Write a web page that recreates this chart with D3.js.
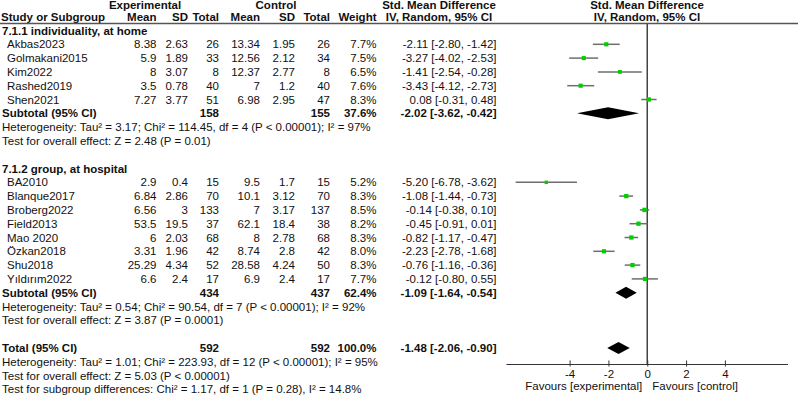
<!DOCTYPE html>
<html>
<head>
<meta charset="utf-8">
<script src="https://cdn.jsdelivr.net/npm/d3@7"></script>
<style>
  body { margin: 0; background: #fff; }
  svg text { font-family: "Liberation Sans", Arial, sans-serif; font-size: 11.5px; fill: #111; }
  .b { font-weight: bold; }
</style>
</head>
<body>
<script>
var w = 798, h = 399;

// study rows
var studies = ["Akbas2023", "Golmakani2015", "Kim2022", "Rashed2019", "Shen2021",
    "BA2010", "Blanque2017", "Broberg2022", "Field2013", "Mao 2020", "Özkan2018", "Shu2018", "Yıldırım2022"];
var group = [1, 1, 1, 1, 1, 2, 2, 2, 2, 2, 2, 2, 2];
var expMean = [8.38, 5.9, 8, 3.5, 7.27, 2.9, 6.84, 6.56, 53.5, 6, 3.31, 25.29, 6.6];
var expSD = [2.63, 1.89, 3.07, 0.78, 3.77, 0.4, 2.86, 3, 19.5, 2.03, 1.96, 4.34, 2.4];
var expTotal = [26, 33, 8, 40, 51, 15, 70, 133, 37, 68, 42, 52, 17];
var ctlMean = [13.34, 12.56, 12.37, 7, 6.98, 9.5, 10.1, 7, 62.1, 8, 8.74, 28.58, 6.9];
var ctlSD = [1.95, 2.12, 2.77, 1.2, 2.95, 1.7, 3.12, 3.17, 18.4, 2.78, 2.8, 4.24, 2.4];
var ctlTotal = [26, 34, 8, 40, 47, 15, 70, 137, 38, 68, 42, 50, 17];
var weight = [7.7, 7.5, 6.5, 7.6, 8.3, 5.2, 8.3, 8.5, 8.2, 8.3, 8.0, 8.3, 7.7];
var smd = [-2.11, -3.27, -1.41, -3.43, 0.08, -5.20, -1.08, -0.14, -0.45, -0.82, -2.23, -0.76, -0.12];
var ciLow = [-2.80, -4.02, -2.54, -4.12, -0.31, -6.78, -1.44, -0.38, -0.91, -1.17, -2.78, -1.16, -0.80];
var ciHigh = [-1.42, -2.53, -0.28, -2.73, 0.48, -3.62, -0.73, 0.10, 0.01, -0.47, -1.68, -0.36, 0.55];

// subgroups and total
var groupNames = ["7.1.1 individuality, at home", "7.1.2 group, at hospital"];
var pooledLabel = ["Subtotal (95% CI)", "Subtotal (95% CI)", "Total (95% CI)"];
var pooledExpN = [158, 434, 592];
var pooledCtlN = [155, 437, 592];
var pooledWeight = [37.6, 62.4, 100.0];
var pooledSmd = [-2.02, -1.09, -1.48];
var pooledLow = [-3.62, -1.64, -2.06];
var pooledHigh = [-0.42, -0.54, -0.90];
var hetText = [
    "Heterogeneity: Tau² = 3.17; Chi² = 114.45, df = 4 (P < 0.00001); I² = 97%",
    "Heterogeneity: Tau² = 0.54; Chi² = 90.54, df = 7 (P < 0.00001); I² = 92%",
    "Heterogeneity: Tau² = 1.01; Chi² = 223.93, df = 12 (P < 0.00001); I² = 95%"];
var effectText = [
    "Test for overall effect: Z = 2.48 (P = 0.01)",
    "Test for overall effect: Z = 3.87 (P = 0.0001)",
    "Test for overall effect: Z = 5.03 (P < 0.00001)"];
var subgroupText = "Test for subgroup differences: Chi² = 1.17, df = 1 (P = 0.28), I² = 14.8%";
var xTicks = [-4, -2, 0, 2, 4];

// row index of each line
var studyRow = [1, 2, 3, 4, 5, 11, 12, 13, 14, 15, 16, 17, 18];
var groupRow = [0, 10];
var pooledRow = [6, 19, 23];

var svg = d3.select("body").append("svg")
    .attr("width", w).attr("height", h);

var yRow = d3.scaleLinear().domain([0, 26]).range([30.5, 389.3]);
var xScale = d3.scaleLinear().domain([-7.25, 7.25]).range([506.5, 788]);

// column right edges
var col = {eMean: 156.5, eSD: 188, eN: 219, cMean: 260, cSD: 295, cN: 330, wt: 376.5, ci: 496.5};

function fmt2(v) { return v.toFixed(2); }
function ciStr(m, l, u) { return fmt2(m) + " [" + fmt2(l) + ", " + fmt2(u) + "]"; }

function txt(x, y, s, anchor, bold) {
    return svg.append("text")
        .attr("x", x).attr("y", y).attr("dy", "0.35em")
        .attr("text-anchor", anchor || "start")
        .attr("class", bold ? "b" : null)
        .text(s);
}

// header
txt(145, 5, "Experimental", "middle", true);
txt(276, 5, "Control", "middle", true);
txt(439, 5, "Std. Mean Difference", "middle", true);
txt(647, 5, "Std. Mean Difference", "middle", true);
txt(1, 17, "Study or Subgroup", "start", true);
txt(col.eMean, 17, "Mean", "end", true);
txt(col.eSD, 17, "SD", "end", true);
txt(col.eN, 17, "Total", "end", true);
txt(col.cMean, 17, "Mean", "end", true);
txt(col.cSD, 17, "SD", "end", true);
txt(col.cN, 17, "Total", "end", true);
txt(col.wt, 17, "Weight", "end", true);
txt(439, 17, "IV, Random, 95% CI", "middle", true);
txt(647, 17, "IV, Random, 95% CI", "middle", true);

svg.append("line")
    .attr("x1", 0).attr("x2", w).attr("y1", 23.5).attr("y2", 23.5)
    .attr("stroke", "#555").attr("stroke-width", 1.5);

// zero line
svg.append("line")
    .attr("x1", xScale(0)).attr("x2", xScale(0))
    .attr("y1", 23.5).attr("y2", 364)
    .attr("stroke", "#444").attr("stroke-width", 1.5);

// group headers
groupNames.forEach(function (g, i) { txt(2, yRow(groupRow[i]), g, "start", true); });

// study table text
studies.forEach(function (s, i) {
    var y = yRow(studyRow[i]);
    txt(7, y, s);
    txt(col.eMean, y, String(expMean[i]), "end");
    txt(col.eSD, y, String(expSD[i]), "end");
    txt(col.eN, y, String(expTotal[i]), "end");
    txt(col.cMean, y, String(ctlMean[i]), "end");
    txt(col.cSD, y, String(ctlSD[i]), "end");
    txt(col.cN, y, String(ctlTotal[i]), "end");
    txt(col.wt, y, weight[i].toFixed(1) + "%", "end");
    txt(col.ci, y, ciStr(smd[i], ciLow[i], ciHigh[i]), "end");
});

// CI lines
svg.selectAll(".ci")
    .data(studies)
    .enter()
    .append("line")
    .attr("class", "ci")
    .attr("x1", function (d, i) { return xScale(ciLow[i]); })
    .attr("x2", function (d, i) { return xScale(ciHigh[i]); })
    .attr("y1", function (d, i) { return yRow(studyRow[i]); })
    .attr("y2", function (d, i) { return yRow(studyRow[i]); })
    .attr("stroke", "#6e6e6e")
    .attr("stroke-width", 1.5);

// weight squares
svg.selectAll(".sq")
    .data(studies)
    .enter()
    .append("rect")
    .attr("class", "sq")
    .attr("x", function (d, i) { return xScale(smd[i]) - 0.75 * Math.sqrt(weight[i]); })
    .attr("y", function (d, i) { return yRow(studyRow[i]) - 0.75 * Math.sqrt(weight[i]); })
    .attr("width", function (d, i) { return 1.5 * Math.sqrt(weight[i]); })
    .attr("height", function (d, i) { return 1.5 * Math.sqrt(weight[i]); })
    .attr("fill", "#00d000");

// pooled rows
pooledLabel.forEach(function (lab, i) {
    var y = yRow(pooledRow[i]);
    txt(2, y, lab, "start", true);
    txt(col.eN, y, String(pooledExpN[i]), "end", true);
    txt(col.cN, y, String(pooledCtlN[i]), "end", true);
    txt(col.wt, y, pooledWeight[i].toFixed(1) + "%", "end", true);
    txt(col.ci, y, ciStr(pooledSmd[i], pooledLow[i], pooledHigh[i]), "end", true);
    txt(2, yRow(pooledRow[i] + 1), hetText[i]);
    txt(2, yRow(pooledRow[i] + 2), effectText[i]);
});
txt(2, yRow(26), subgroupText);

// diamonds
svg.selectAll(".dia")
    .data(pooledSmd)
    .enter()
    .append("path")
    .attr("class", "dia")
    .attr("d", function (d, i) {
        var y = yRow(pooledRow[i]);
        return "M" + xScale(pooledLow[i]) + "," + y +
            "L" + xScale(d) + "," + (y - 6) +
            "L" + xScale(pooledHigh[i]) + "," + y +
            "L" + xScale(d) + "," + (y + 6) + "Z";
    })
    .attr("fill", "#000");

// axis
var xAxis = d3.axisBottom(xScale)
    .tickValues(xTicks)
    .tickSize(2)
    .tickPadding(3)
    .tickFormat(function (d) { return String(d); });

var axisG = svg.append("g")
    .attr("transform", "translate(0,364.5)")
    .call(xAxis);
axisG.select(".domain").attr("d", "M" + xScale.range()[0] + ",0H" + xScale.range()[1])
    .attr("stroke", "#333");
axisG.selectAll(".tick line").attr("y1", -4).attr("stroke", "#333");
axisG.selectAll(".tick text")
    .style("font-family", "'Liberation Sans', Arial, sans-serif")
    .style("font-size", "11.5px")
    .attr("fill", "#111");

txt(xScale(0) - 5, 386, "Favours [experimental]", "end");
txt(xScale(0) + 5, 386, "Favours [control]", "start");
</script>
</body>
</html>
